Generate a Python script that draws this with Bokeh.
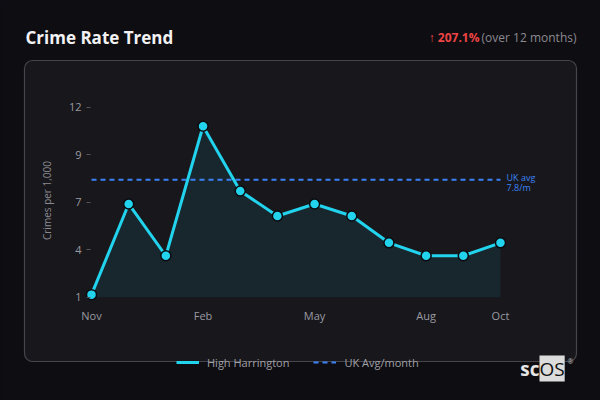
from bokeh.plotting import figure
from bokeh.models import (Range1d, FixedTicker, Label, Legend, LegendItem,
                          BoxAnnotation)
from bokeh.embed import file_html
from bokeh.resources import INLINE

# data
months = ["Nov", "Dec", "Jan", "Feb", "Mar", "Apr",
          "May", "Jun", "Jul", "Aug", "Sep", "Oct"]
rate = [1.15, 6.4, 3.4, 10.9, 7.15, 5.7, 6.4, 5.7, 4.15, 3.4, 3.4, 4.15]
uk_avg = 7.8
area_name = "High Harrington"
change_text = "207.1%"
period_text = "(over 12 months)"

y_ticks = [1, 3.75, 6.5, 9.25, 12]
y_tick_labels = ["1", "4", "7", "9", "12"]
x_tick_idx = [0, 3, 6, 9, 11]

xs = list(range(len(months)))

PAGE = "#0e0d12"
CARD = "#18171c"
CYAN = "#22d3ee"
BLUE = "#3b82f6"
FONT = "Open Sans"

# the frame fills the whole canvas, so nothing gets clipped;
# ranges are set so the plotting area lands inside the card
X_LEFT = -0.135
Y_BOTTOM = 0.693
p = figure(width=600, height=400, output_backend="svg", toolbar_location=None,
           x_range=Range1d(-2.4475, 13.69), y_range=Range1d(-4.98, 18.18),
           min_border=0)
p.border_fill_color = PAGE
p.background_fill_color = PAGE
p.outline_line_color = None

# card
card = BoxAnnotation(left=24, right=576, top=60, bottom=361,
                     left_units="canvas", right_units="canvas",
                     top_units="canvas", bottom_units="canvas",
                     fill_color=CARD, fill_alpha=1,
                     line_color="#46454c", line_alpha=1, line_width=1.2,
                     border_radius=8, level="underlay")
p.add_layout(card)

# area + line + markers
p.varea(x=xs, y1=[y_ticks[0]] * len(xs), y2=rate,
        fill_color=CYAN, fill_alpha=0.09)
uk_r = p.line([xs[0], xs[-1]], [uk_avg, uk_avg], line_color=BLUE,
              line_width=2, line_dash="5 4")
line_r = p.line(xs, rate, line_color=CYAN, line_width=3)
p.scatter(xs, rate, size=10, fill_color=CYAN, line_color="#0b0b0f",
          line_width=1.5)

# axes, pinned inside the frame
p.xaxis.fixed_location = Y_BOTTOM
p.yaxis.fixed_location = X_LEFT
p.xaxis.ticker = FixedTicker(ticks=x_tick_idx)
p.xaxis.major_label_overrides = {i: months[i] for i in x_tick_idx}
p.yaxis.ticker = FixedTicker(ticks=y_ticks)
p.yaxis.major_label_overrides = dict(zip(y_ticks, y_tick_labels))
for ax in (p.xaxis, p.yaxis):
    ax.axis_line_color = None
    ax.major_tick_out = 0
    ax.minor_tick_line_color = None
    ax.major_label_text_color = "#9a9aa0"
    ax.major_label_text_font = FONT
    ax.major_label_text_font_size = "11px"
    ax.major_label_standoff = 5
p.xaxis.major_tick_line_color = None
p.yaxis.major_tick_in = 4
p.yaxis.major_tick_line_color = "#55555a"
p.yaxis.axis_label = "Crimes per 1,000"
p.yaxis.axis_label_text_font = FONT
p.yaxis.axis_label_text_font_style = "normal"
p.yaxis.axis_label_text_font_size = "10px"
p.yaxis.axis_label_text_color = "#8a8a90"
p.yaxis.axis_label_standoff = 12

p.xgrid.grid_line_color = None
p.ygrid.grid_line_color = "#45454c"
p.ygrid.grid_line_dash = "2 3"
p.ygrid.grid_line_alpha = 0.6
p.ygrid.cross_bounds = (xs[0] - 0.05, xs[-1] + 0.05)

# UK average note
p.add_layout(Label(x=xs[-1], y=uk_avg, x_offset=6, y_offset=2,
                   text="UK avg", text_color=BLUE, text_font=FONT,
                   text_font_size="9px", text_baseline="middle"))
p.add_layout(Label(x=xs[-1], y=uk_avg, x_offset=6, y_offset=-8,
                   text=f"{uk_avg}/m", text_color=BLUE, text_font=FONT,
                   text_font_size="9px", text_baseline="middle"))

# header
p.add_layout(Label(x=25, y=37, x_units="canvas", y_units="canvas",
                   text="Crime Rate Trend", text_color="#f2f2f4",
                   text_font=FONT, text_font_style="bold",
                   text_font_size="17px", text_baseline="middle"))
p.add_layout(Label(x=576, y=37, x_units="canvas", y_units="canvas",
                   text=period_text, text_color="#8a8a90", text_font=FONT,
                   text_font_size="12px", text_baseline="middle",
                   text_align="right"))
p.add_layout(Label(x=479, y=37, x_units="canvas", y_units="canvas",
                   text="\u2191 " + change_text, text_color="#ef4444",
                   text_font=FONT, text_font_style="bold",
                   text_font_size="12px", text_baseline="middle",
                   text_align="right"))

# legend
legend = Legend(items=[LegendItem(label=area_name, renderers=[line_r]),
                       LegendItem(label="UK Avg/month", renderers=[uk_r])],
                location=(176, 28), orientation="horizontal",
                background_fill_alpha=0, border_line_color=None,
                label_text_color="#a0a0a6", label_text_font=FONT,
                label_text_font_size="11px", glyph_width=23,
                label_standoff=8, spacing=24, padding=0, margin=0)
p.add_layout(legend)

# logo
p.add_layout(Label(x=539, y=368, x_units="canvas", y_units="canvas",
                   text="sc", text_color="#e6e6e6", text_font=FONT,
                   text_font_style="bold", text_font_size="19px",
                   text_baseline="middle", text_align="right"))
p.add_layout(Label(x=539, y=368, x_units="canvas", y_units="canvas",
                   text="OS", text_color="#111111", text_font=FONT,
                   text_font_size="19px", text_baseline="middle",
                   background_fill_color="#dcdcdc"))
p.add_layout(Label(x=567, y=361, x_units="canvas", y_units="canvas",
                   text="\u00ae", text_color="#bbbbbb", text_font=FONT,
                   text_font_size="7px", text_baseline="middle"))

html = file_html(p, INLINE)
html = html.replace("<head>", "<head><style>body{background:%s;}</style>" % PAGE, 1)
open("out.html", "w").write(html)
